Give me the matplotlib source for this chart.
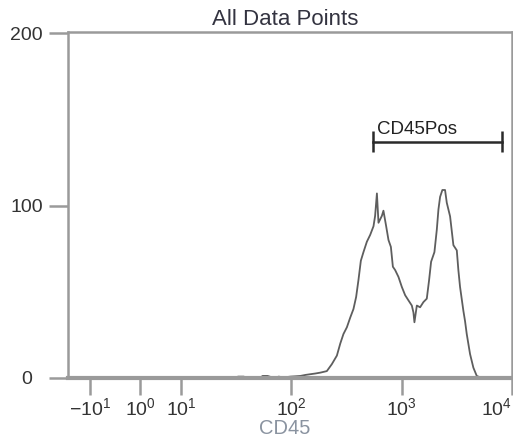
import matplotlib.pyplot as plt

plt.rcParams['font.family'] = ['Liberation Sans', 'DejaVu Sans']
plt.rcParams['mathtext.fontset'] = 'custom'
plt.rcParams['mathtext.rm'] = 'Liberation Sans'
plt.rcParams['mathtext.it'] = 'Liberation Sans'

# CD45 intensity (channel value) and event count
cd45 = [15, 17, 20, 23, 30, 33, 37, 41, 52, 55, 61, 66, 70, 77, 85, 98,
        110, 121, 135, 149, 165, 183, 210, 233, 259, 278, 297, 319, 342,
        366, 387, 406, 427, 451, 484, 519, 556, 575, 597, 617, 662, 684,
        724, 760, 799, 833, 873, 936, 1004, 1076, 1153, 1237, 1279, 1306,
        1373, 1470, 1575, 1690, 1773, 1849, 1982, 2083, 2155, 2231, 2339,
        2474, 2565, 2748, 2945, 3161, 3266, 3383, 3625, 3754, 3890, 4168,
        4466, 4794, 5319, 5904, 7015]
counts = [0, 0.6, 0.6, 0, 0, 0.8, 0.8, 0, 0, 1.2, 1.2, 0.5, 0, 0.8, 0.3, 0.8,
          1.0, 1.2, 1.8, 2.2, 2.6, 3.1, 4, 8, 13, 20, 25.5, 29.4, 35,
          40, 47, 56.7, 68, 73, 79, 83, 88, 94, 107, 90, 94, 97,
          88, 80, 76, 64.5, 62.6, 58.6, 52.8, 48, 45, 42, 38, 32.3,
          42, 41, 44, 46, 56.7, 67.4, 73, 86, 97.7, 105, 109,
          109, 101.6, 93.7, 77, 74, 62.6, 52.8, 39, 33, 25.5, 13.9,
          6, 1.2, 0, 0.3, 0]

x_ticks = [-10, 1, 10, 100, 1000, 10000]
x_tick_labels = ['$-10^{1}$', '$10^{0}$', '$10^{1}$', '$10^{2}$', '$10^{3}$', '$10^{4}$']
y_ticks = [0, 100, 200]
y_tick_labels = ['0', '100', '200']

# gate CD45Pos
gate_lo = 552
gate_hi = 8110
gate_y = 137

frame_col = '#9a9a9a'

fig = plt.figure(figsize=(5.13, 4.38), dpi=100)
ax = fig.add_axes([68 / 513, 60 / 438, 444 / 513, 346 / 438])

ax.plot(cd45, counts, color='#5e5e5e', linewidth=1.3)

ax.set_xscale('symlog', linthresh=10, linscale=0.371)
ax.set_xlim(-15.8, 10000)
ax.set_ylim(0, 200.6)

# gate bar with end caps
ax.plot([gate_lo, gate_hi], [gate_y, gate_y], color='#2a2a2a', linewidth=1.8)
ax.vlines([gate_lo, gate_hi], gate_y - 6.2, gate_y + 6.2, color='#2a2a2a', linewidth=1.8)
ax.text(600, 141.5, 'CD45Pos', fontsize=13.5, color='#222222', va='baseline', ha='left')

ax.set_xticks(x_ticks)
ax.set_xticklabels(x_tick_labels, fontsize=14, color='#333333')
ax.minorticks_off()
# last label is pushed inside the figure edge
ax.get_xticklabels()[-1].set_horizontalalignment('right')
ax.set_yticks(y_ticks)
ax.set_yticklabels(y_tick_labels, fontsize=14, color='#333333')
for lab in ax.get_yticklabels():
    lab.set_horizontalalignment('center')

ax.tick_params(axis='x', length=12, width=1.8, color=frame_col, pad=2)
ax.tick_params(axis='y', length=14, width=1.8, color=frame_col, pad=16)

for side in ['left', 'top', 'right']:
    ax.spines[side].set_color(frame_col)
    ax.spines[side].set_linewidth(1.8)
ax.spines['bottom'].set_color(frame_col)
ax.spines['bottom'].set_linewidth(3)

fig.text(285 / 513, 1 - 25 / 438, 'All Data Points', fontsize=16, color='#333340',
         ha='center', va='baseline')
fig.text(285 / 513, 1 - 434 / 438, 'CD45', fontsize=14.5, color='#8a93a0',
         ha='center', va='baseline')

fig.savefig('out.png', dpi=100)
